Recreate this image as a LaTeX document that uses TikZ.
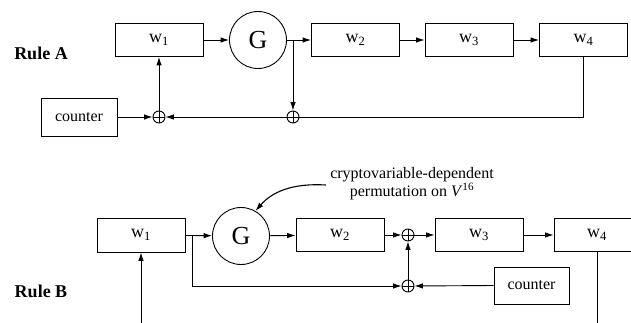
\documentclass[tikz,border=0pt]{standalone}
\usepackage{fontspec}
\setmainfont{Liberation Serif}
\usetikzlibrary{arrows.meta}
\begin{document}
\begin{tikzpicture}[x=1pt,y=-1pt,
  line width=0.9pt,
  >={Latex[length=8.5pt,width=5.5pt]},
  reg/.style={draw, rectangle, minimum width=88pt, minimum height=33pt, inner sep=0pt, font=\fontsize{18}{20}\selectfont},
  ctr/.style={draw, rectangle, minimum width=76pt, minimum height=38pt, inner sep=0pt, font=\fontsize{16}{18}\selectfont},
  gnode/.style={draw, circle, minimum size=57pt, inner sep=0pt, font=\fontsize{26}{28}\selectfont},
  xor/.style={draw, circle, minimum size=12pt, inner sep=0pt,
    path picture={\draw[line width=0.9pt] (path picture bounding box.north) -- (path picture bounding box.south)
      (path picture bounding box.west) -- (path picture bounding box.east);}},
  rule/.style={font=\fontsize{18}{20}\selectfont\bfseries},
  note/.style={align=center, font=\fontsize{16}{17}\selectfont, inner sep=0pt}]
\clip (0,0) rectangle (631,323);
% ---------- Rule A ----------
\node[rule] (ra) at (41,53) {Rule A};
\node[reg] (aw1) at (159,40) {w\textsubscript{1}};
\node[gnode] (ag) at (258,40) {G};
\node[reg] (aw2) at (355.5,40) {w\textsubscript{2}};
\node[reg] (aw3) at (469,40) {w\textsubscript{3}};
\node[reg] (aw4) at (583.5,40) {w\textsubscript{4}};
\node[ctr] (actr) at (79,117) {counter};
\node[xor] (ax1) at (159,117) {};
\node[xor] (ax2) at (293,117) {};
\coordinate (abr) at (293,40);
\draw[->] (aw1) -- (ag);
\draw[->] (ag) -- (aw2);
\draw[->] (aw2) -- (aw3);
\draw[->] (aw3) -- (aw4);
\draw[->] (abr) -- (ax2.north);
\draw (aw4.south) |- (ax2.east);
\draw[->] (ax2.west) -- (ax1.east);
\draw[->] (actr.east) -- (ax1.west);
\draw[->] (ax1.north) -- (aw1.south);
% ---------- Rule B ----------
\node[rule] (rb) at (41,291) {Rule B};
\node[reg, minimum height=34pt] (bw1) at (141,235) {w\textsubscript{1}};
\node[gnode] (bg) at (241,236) {G};
\node[reg] (bw2) at (340,235) {w\textsubscript{2}};
\node[xor] (bx1) at (408,235) {};
\node[reg] (bw3) at (479,235) {w\textsubscript{3}};
\node[reg, minimum width=86pt] (bw4) at (597,235) {w\textsubscript{4}};
\node[ctr, minimum width=75pt, minimum height=37pt] (bctr) at (531.5,285.5) {counter};
\node[xor] (bx2) at (408,286) {};
\coordinate (bbr) at (192,235);
\coordinate (bin) at (141,323);
\coordinate (bout) at (597,323);
\node[note] (nt) at (412,184) {cryptovariable-dependent\\permutation on \textit{V}\textsuperscript{16}};
\draw[->] (bw1) -- (bg);
\draw[->] (bg) -- (bw2);
\draw[->] (bw2) -- (bx1.west);
\draw[->] (bx1.east) -- (bw3);
\draw[->] (bw3) -- (bw4);
\draw[->] (bbr) |- (bx2.west);
\draw[->] (bctr.west) -- (bx2.east);
\draw[->] (bx2.north) -- (bx1.south);
\draw[->] (bin) -- (bw1.south);
\draw (bw4.south) -- (bout);
\draw[->, line width=1.1pt] (nt.west) ++(-4,1) .. controls (292,183) and (272,192) .. (bg.60);
\end{tikzpicture}
\end{document}
